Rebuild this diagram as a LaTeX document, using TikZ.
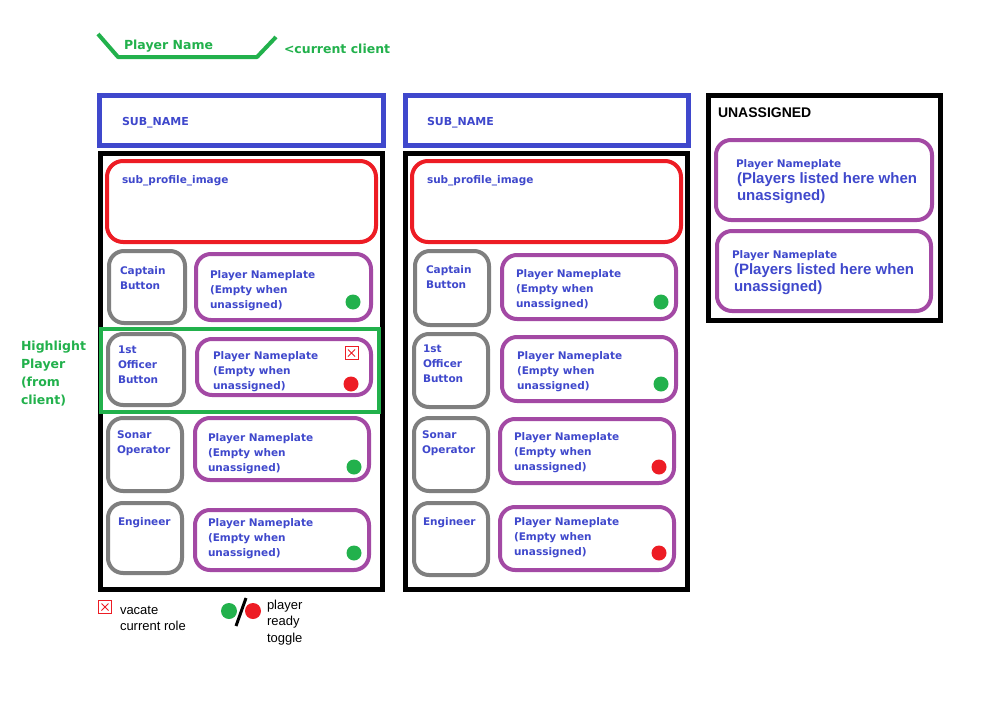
\documentclass[tikz,border=0pt]{standalone}
\usepackage{fontspec}
\newfontfamily\dvsans{DejaVu Sans}
\newfontfamily\arialike{Liberation Sans}
\definecolor{paintblue}{RGB}{63,72,204}
\definecolor{paintred}{RGB}{237,28,36}
\definecolor{paintpurple}{RGB}{163,73,164}
\definecolor{paintgray}{RGB}{127,127,127}
\definecolor{paintgreen}{RGB}{34,177,76}
% several lines of text, aligned on the baseline of the first one
\newcommand\linesof[1]{\begin{tabular}[t]{@{}l@{}}#1\end{tabular}}
% a framed box given by the corners of its stroke centre line
\newcommand\panel[6]{\node[#1, anchor=north west, minimum width={#5-#3}, minimum height={#6-#4}] (#2) at (#3,#4) {};}
\tikzset{
  boxbase/.style={inner sep=0pt, outer sep=0pt},
  subbox/.style={boxbase, draw=paintblue, line width=5pt},
  crewbox/.style={boxbase, draw=black, line width=5pt},
  imagebox/.style={boxbase, draw=paintred, line width=4pt, rounded corners=16pt},
  rolebox/.style={boxbase, draw=paintgray, line width=4pt, rounded corners=15pt},
  platebox/.style={boxbase, draw=paintpurple, line width=4pt, rounded corners=15pt},
  highlightbox/.style={boxbase, draw=paintgreen, line width=4pt},
  readyon/.style={circle, fill=paintgreen, inner sep=0pt, minimum size=15pt},
  readyoff/.style={circle, fill=paintred, inner sep=0pt, minimum size=15pt},
  vacatebox/.style={boxbase, draw=paintred, line width=1pt, minimum size=13pt,
    path picture={\draw[paintred, line width=1pt]
      ([shift={(3pt,-3pt)}]path picture bounding box.north west) --
      ([shift={(-3pt,3pt)}]path picture bounding box.south east)
      ([shift={(3pt,3pt)}]path picture bounding box.south west) --
      ([shift={(-3pt,-3pt)}]path picture bounding box.north east);}},
  txt/.style={inner sep=0pt, outer sep=0pt, anchor=base west},
  bluetxt/.style={txt, text=paintblue, font=\dvsans\bfseries\fontsize{10.5}{15}\selectfont},
  subtxt/.style={txt, text=paintblue, font=\dvsans\bfseries\fontsize{11}{15}\selectfont},
  bigbluetxt/.style={txt, text=paintblue, font=\arialike\bfseries\fontsize{15}{17}\selectfont},
  greentxt/.style={txt, text=paintgreen, font=\dvsans\bfseries\fontsize{12.5}{18}\selectfont},
  notetxt/.style={txt, text=black, font=\arialike\fontsize{13}{16.5}\selectfont},
}
\begin{document}
\begin{tikzpicture}[x=1pt, y=-1pt]
\useasboundingbox[fill=white] (0,0) rectangle (1002,720);

% current client marker
\draw[paintgreen, line width=4pt, line join=round] (98,34) -- (118,57) -- (257,57) -- (276,37);
\node[greentxt] (clientname) at (124,49) {Player Name};
\node[greentxt] (clientnote) at (284,53) {<current client};
\node[greentxt] (highlightnote) at (21,350) {\linesof{Highlight\\Player\\(from\\client)}};

% ---------- first sub ----------
\panel{subbox}{subA}{99.5}{95.5}{383}{145.5}
\node[subtxt] (subAname) at (122,125) {SUB\_NAME};
\panel{crewbox}{crewA}{100.5}{153.5}{382.5}{589}
\panel{imagebox}{imgA}{107}{161}{376}{242}
\node[bluetxt] (imgAtxt) at (122,183) {sub\_profile\_image};

\panel{rolebox}{capA}{109}{251}{185}{323}
\node[bluetxt] (capAtxt) at (120,274) {\linesof{Captain\\Button}};
\panel{platebox}{plateA1}{196}{254}{371}{320}
\node[bluetxt] (plateA1txt) at (210,278) {\linesof{Player Nameplate\\(Empty when\\unassigned)}};
\node[readyon] (readyA1) at (353,302) {};

\panel{rolebox}{offA}{108}{334}{184}{405}
\node[bluetxt] (offAtxt) at (118,353) {\linesof{1st\\Officer\\Button}};
\panel{platebox}{plateA2}{197}{339}{371}{395}
\node[bluetxt] (plateA2txt) at (213,359) {\linesof{Player Nameplate\\(Empty when\\unassigned)}};
\node[vacatebox] (vacateA2) at (351.5,353) {};
\node[readyoff] (readyA2) at (351,384) {};
\panel{highlightbox}{highlightA}{100.5}{329}{379}{412}

\panel{rolebox}{sonA}{108}{418}{182}{491}
\node[bluetxt] (sonAtxt) at (117,438) {\linesof{Sonar\\Operator}};
\panel{platebox}{plateA3}{195}{418}{369}{480}
\node[bluetxt] (plateA3txt) at (208,441) {\linesof{Player Nameplate\\(Empty when\\unassigned)}};
\node[readyon] (readyA3) at (354,467) {};

\panel{rolebox}{engA}{108}{503}{182}{573}
\node[bluetxt] (engAtxt) at (118,525) {Engineer};
\panel{platebox}{plateA4}{195}{510}{369}{570}
\node[bluetxt] (plateA4txt) at (208,526) {\linesof{Player Nameplate\\(Empty when\\unassigned)}};
\node[readyon] (readyA4) at (354,553) {};

% legend
\node[vacatebox] (vacatekey) at (105,607) {};
\node[notetxt] (vacatekeytxt) at (120,614) {\linesof{vacate\\current role}};
\node[readyon, minimum size=16pt] (readykeyon) at (229,611) {};
\node[readyoff, minimum size=16pt] (readykeyoff) at (253,611) {};
\draw[black, line width=3pt] (246,598) -- (236,626);
\node[notetxt] (readykeytxt) at (267,609) {\linesof{player\\ready\\toggle}};

% ---------- second sub ----------
\panel{subbox}{subB}{405}{95.5}{688.5}{145.5}
\node[subtxt] (subBname) at (427,125) {SUB\_NAME};
\panel{crewbox}{crewB}{405.5}{153.5}{687.5}{589.5}
\panel{imagebox}{imgB}{412}{161}{681}{242}
\node[bluetxt] (imgBtxt) at (427,183) {sub\_profile\_image};

\panel{rolebox}{capB}{415}{251}{489}{325}
\node[bluetxt] (capBtxt) at (426,273) {\linesof{Captain\\Button}};
\panel{platebox}{plateB1}{502}{255}{676}{319}
\node[bluetxt] (plateB1txt) at (516,277) {\linesof{Player Nameplate\\(Empty when\\unassigned)}};
\node[readyon] (readyB1) at (661,302) {};

\panel{rolebox}{offB}{414}{334}{488}{407}
\node[bluetxt] (offBtxt) at (423,352) {\linesof{1st\\Officer\\Button}};
\panel{platebox}{plateB2}{502}{337}{676}{401}
\node[bluetxt] (plateB2txt) at (517,359) {\linesof{Player Nameplate\\(Empty when\\unassigned)}};
\node[readyon] (readyB2) at (661,384) {};

\panel{rolebox}{sonB}{414}{418}{488}{491}
\node[bluetxt] (sonBtxt) at (422,438) {\linesof{Sonar\\Operator}};
\panel{platebox}{plateB3}{500}{419}{674}{483}
\node[bluetxt] (plateB3txt) at (514,440) {\linesof{Player Nameplate\\(Empty when\\unassigned)}};
\node[readyoff] (readyB3) at (659,467) {};

\panel{rolebox}{engB}{414}{503}{488}{575}
\node[bluetxt] (engBtxt) at (423,525) {Engineer};
\panel{platebox}{plateB4}{500}{507}{674}{570}
\node[bluetxt] (plateB4txt) at (514,525) {\linesof{Player Nameplate\\(Empty when\\unassigned)}};
\node[readyoff] (readyB4) at (659,553) {};

% ---------- unassigned players ----------
\panel{crewbox}{pool}{708.5}{95.5}{940.5}{320.5}
\node[txt, font=\arialike\bfseries\fontsize{14}{16}\selectfont] (pooltitle) at (718,117) {UNASSIGNED};
\panel{platebox}{poolplate1}{716}{140}{932}{220}
\node[bluetxt] (poolplate1name) at (736,167) {Player Nameplate};
\node[bigbluetxt] (poolplate1txt) at (737,183) {\linesof{(Players listed here when\\unassigned)}};
\panel{platebox}{poolplate2}{717}{231}{931}{311}
\node[bluetxt] (poolplate2name) at (732,258) {Player Nameplate};
\node[bigbluetxt] (poolplate2txt) at (734,274) {\linesof{(Players listed here when\\unassigned)}};
\end{tikzpicture}
\end{document}
